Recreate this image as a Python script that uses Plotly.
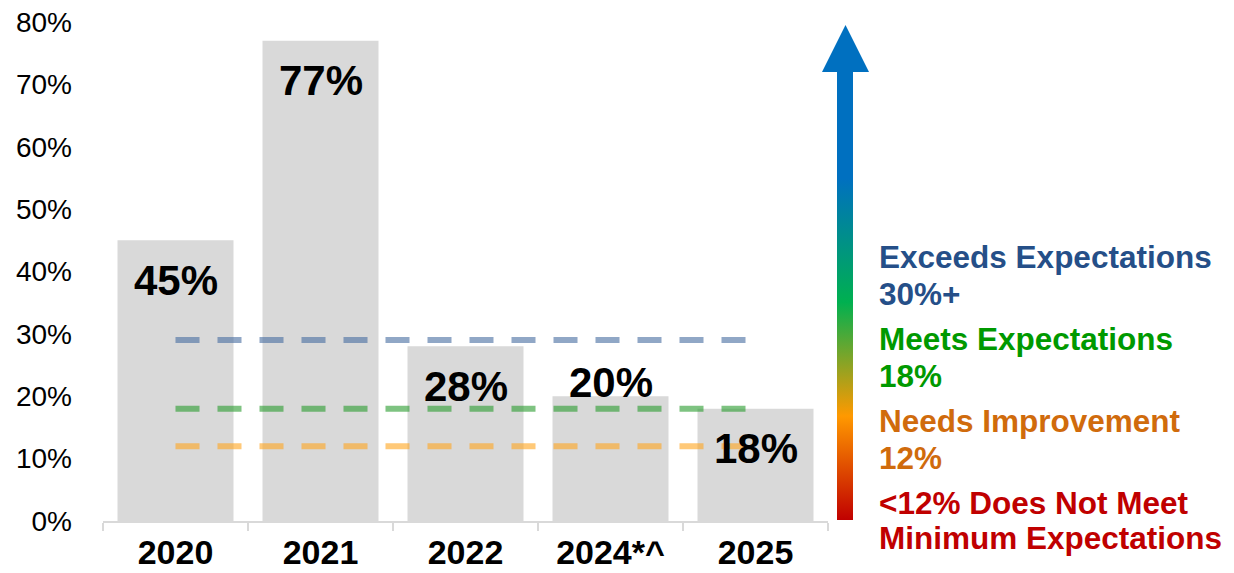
import plotly.graph_objects as go

# --- data ---------------------------------------------------------------
years = ["2020", "2021", "2022", "2024*^", "2025"]
rates = [45, 77, 28, 20, 18]              # percent
label_shift = [-40, -40, -40, 14, -40]    # px offset of each value label from the bar top

thresholds = [29, 18, 12]                 # percent
threshold_colors = ["rgba(70,108,160,0.6)", "rgba(40,155,45,0.6)", "rgba(255,165,30,0.6)"]

y_ticks = [0, 10, 20, 30, 40, 50, 60, 70, 80]

legend_lines = [
    ("Exceeds Expectations", "#254f88", 257),
    ("30%+", "#254f88", 294),
    ("Meets Expectations", "#009900", 339),
    ("18%", "#009900", 376),
    ("Needs Improvement", "#d06b0c", 421),
    ("12%", "#d06b0c", 458),
    ("<12% Does Not Meet", "#c00000", 503),
    ("Minimum Expectations", "#c00000", 538),
]

W, H = 1234, 573
FONT = "Arial, Liberation Sans, sans-serif"

fig = go.Figure()

# bars
fig.add_trace(go.Bar(
    x=years, y=rates, marker=dict(color="#d9d9d9", line=dict(width=0)),
    hoverinfo="skip", showlegend=False,
))

# threshold dashed lines, first to last category
for val, col in zip(thresholds, threshold_colors):
    fig.add_trace(go.Scatter(
        x=[years[0], years[-1]], y=[val, val], mode="lines",
        line=dict(color=col, width=6, dash="24px,18px"),
        hoverinfo="skip", showlegend=False,
    ))

# value labels on bars (x given as category index)
for i, (v, s) in enumerate(zip(rates, label_shift)):
    fig.add_annotation(
        x=i, y=v, xref="x", yref="y", text=f"<b>{v}%</b>", showarrow=False,
        yshift=s, yanchor="middle", font=dict(family=FONT, size=42, color="black"),
    )

# gradient arrow drawn on a pixel-based overlay axis (y pointing up)
ax_l, ax_r = 837, 853
hd_l, hd_r = 822, 869
tip, head_base, bottom = H - 25, H - 72, H - 520
arrow_x = [ax_l, ax_r, ax_r, hd_r, (hd_l + hd_r) / 2, hd_l, ax_l, ax_l]
arrow_y = [bottom, bottom, head_base, head_base, tip, head_base, head_base, bottom]
fig.add_trace(go.Scatter(
    x=arrow_x, y=arrow_y, xaxis="x2", yaxis="y2", mode="lines",
    line=dict(width=0), fill="toself",
    fillgradient=dict(
        type="vertical",
        colorscale=[[0, "#c00000"], [0.21, "#ff9900"], [0.44, "#00b050"],
                    [0.69, "#0070c0"], [1, "#0070c0"]],
    ),
    hoverinfo="skip", showlegend=False,
))

# legend text beside the arrow
for txt, col, ypix in legend_lines:
    fig.add_annotation(
        x=877 / W, y=1 - ypix / H, xref="paper", yref="paper",
        text=f"<b>{txt}</b>", showarrow=False, xanchor="left", yanchor="middle",
        font=dict(family=FONT, size=31.5, color=col),
    )

fig.update_layout(
    width=W, height=H,
    margin=dict(l=0, r=0, t=0, b=0),
    paper_bgcolor="white", plot_bgcolor="rgba(0,0,0,0)",
    bargap=0.2,
    showlegend=False,
    xaxis=dict(
        domain=[103 / W, 828 / W], type="category", range=[-0.5, len(years) - 0.5],
        showgrid=False, showline=True, linecolor="#d9d9d9", linewidth=2,
        ticks="outside", tickson="boundaries", ticklen=8, tickcolor="#d9d9d9", tickwidth=2,
        tickfont=dict(family=FONT, size=34, color="black", weight="bold"),
        tickangle=0, ticklabelstandoff=0, automargin=False, fixedrange=True,
    ),
    yaxis=dict(
        domain=[(H - 521) / H, (H - 22) / H], range=[0, 80],
        tickvals=y_ticks, ticktext=[f"{t}%" for t in y_ticks],
        showgrid=False, zeroline=False, showline=False, ticks="",
        tickfont=dict(family=FONT, size=28, color="black"),
        ticklabelstandoff=30, automargin=False, fixedrange=True,
    ),
    xaxis2=dict(domain=[0, 1], range=[0, W], visible=False, anchor="y2", fixedrange=True),
    yaxis2=dict(domain=[0, 1], range=[0, H], visible=False, anchor="x2", fixedrange=True),
)

fig.write_html("out.html", config={"displayModeBar": False})
